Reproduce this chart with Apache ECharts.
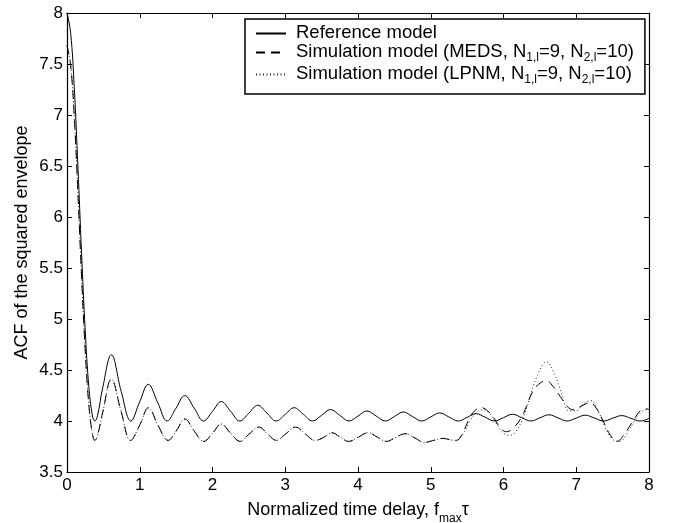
<!DOCTYPE html>
<html>
<head>
<meta charset="utf-8">
<script src="https://cdn.jsdelivr.net/npm/echarts@6/dist/echarts.min.js"></script>
<style>
html, body { margin: 0; padding: 0; background: #fff; }
#chart { width: 673px; height: 523px; }
</style>
</head>
<body>
<div id="chart"></div>
<script>
// values: [tau, ACF]
const refModel = [
  [0, 8], [0.05, 7.806], [0.1, 7.267], [0.15, 6.496], [0.2, 5.651], [0.25, 4.891],
  [0.3, 4.338], [0.35, 4.049], [0.383, 4.0], [0.42, 4.053], [0.49, 4.323], [0.61, 4.649],
  [0.745, 4.29], [0.879, 4.0], [1.0, 4.19], [1.117, 4.36], [1.247, 4.18], [1.377, 4.0],
  [1.498, 4.125], [1.619, 4.249], [1.749, 4.125], [1.877, 4.0], [2.0, 4.095], [2.121, 4.191],
  [2.249, 4.095], [2.376, 4.0], [2.5, 4.077], [2.621, 4.154], [2.749, 4.077], [2.876, 4.0],
  [3.0, 4.065], [3.122, 4.13], [3.249, 4.065], [3.376, 4.0], [3.5, 4.056], [3.622, 4.112],
  [3.749, 4.056], [3.876, 4.0], [4.0, 4.049], [4.123, 4.098], [4.249, 4.049], [4.376, 4.0],
  [4.5, 4.044], [4.623, 4.088], [4.749, 4.044], [4.876, 4.0], [5.0, 4.04], [5.123, 4.079],
  [5.249, 4.04], [5.376, 4.0], [5.5, 4.036], [5.623, 4.072], [5.749, 4.036], [5.876, 4.0],
  [6.0, 4.033], [6.124, 4.066], [6.249, 4.033], [6.375, 4.0], [6.5, 4.031], [6.624, 4.061],
  [6.749, 4.031], [6.875, 4.0], [7.0, 4.029], [7.124, 4.057], [7.249, 4.029], [7.375, 4.0],
  [7.5, 4.027], [7.624, 4.053], [7.749, 4.027], [7.875, 4.0], [8.0, 4.025]
];

// both simulation models coincide up to about tau = 5.3
const simCommon = [
  [0, 7.68], [0.05, 7.49], [0.1, 6.98], [0.15, 6.24], [0.2, 5.42], [0.25, 4.7],
  [0.3, 4.16], [0.35, 3.87], [0.383, 3.81], [0.42, 3.86], [0.49, 4.08], [0.61, 4.41],
  [0.745, 4.09], [0.875, 3.81], [1.0, 3.96], [1.12, 4.13], [1.25, 3.96], [1.39, 3.81],
  [1.5, 3.9], [1.62, 4.02], [1.75, 3.9], [1.88, 3.8], [2.0, 3.88], [2.12, 3.97],
  [2.25, 3.88], [2.38, 3.8], [2.5, 3.87], [2.64, 3.94], [2.76, 3.87], [2.88, 3.81],
  [3.0, 3.87], [3.14, 3.94], [3.28, 3.87], [3.41, 3.81], [3.53, 3.84], [3.64, 3.885],
  [3.76, 3.84], [3.87, 3.8], [4.0, 3.84], [4.14, 3.885], [4.27, 3.84], [4.39, 3.8],
  [4.52, 3.84], [4.65, 3.875], [4.78, 3.835], [4.91, 3.79], [5.04, 3.81], [5.17, 3.83],
  [5.27, 3.815], [5.35, 3.81]
];

const medsTail = [
  [5.45, 3.9], [5.54, 4.04], [5.62, 4.11], [5.7, 4.13], [5.78, 4.1], [5.86, 4.04],
  [5.95, 3.94], [6.04, 3.895], [6.12, 3.92], [6.25, 4.04], [6.41, 4.3], [6.52, 4.38],
  [6.59, 4.395], [6.68, 4.34], [6.78, 4.24], [6.88, 4.14], [6.96, 4.11], [7.08, 4.15],
  [7.19, 4.18], [7.28, 4.12], [7.37, 4.0], [7.47, 3.86], [7.56, 3.8], [7.66, 3.87],
  [7.78, 4.0], [7.88, 4.1], [7.96, 4.12], [8.0, 4.11]
];

const lpnmTail = [
  [5.45, 3.88], [5.54, 4.0], [5.62, 4.08], [5.72, 4.11], [5.8, 4.08], [5.88, 4.0],
  [5.97, 3.9], [6.07, 3.86], [6.15, 3.88], [6.25, 4.0], [6.35, 4.2], [6.45, 4.42],
  [6.59, 4.58], [6.7, 4.46], [6.8, 4.27], [6.9, 4.1], [7.0, 4.1], [7.1, 4.17],
  [7.2, 4.2], [7.3, 4.1], [7.4, 3.93], [7.5, 3.82], [7.6, 3.8], [7.7, 3.88],
  [7.8, 4.0], [7.9, 4.09], [8.0, 4.12]
];

const seriesNames = [
  'Reference model',
  'Simulation model (MEDS, N1,l=9, N2,l=10)',
  'Simulation model (LPNM, N1,l=9, N2,l=10)'
];
const legendLabels = {
  'Reference model': '{g| }{n|Reference model}',
  'Simulation model (MEDS, N1,l=9, N2,l=10)': '{g| }{n|Simulation model (MEDS, N}{s|1,l}{n|=9, N}{s|2,l}{n|=10)}',
  'Simulation model (LPNM, N1,l=9, N2,l=10)': '{g| }{n|Simulation model (LPNM, N}{s|1,l}{n|=9, N}{s|2,l}{n|=10)}'
};

const FONT = '"Liberation Sans", Arial, Helvetica, sans-serif';
const chart = echarts.init(document.getElementById('chart'));

const mirrorTick = { show: true, inside: true, length: 5, lineStyle: { color: '#000', width: 1 } };
const frameLine = { show: true, onZero: false, lineStyle: { color: '#000', width: 1.2 } };

const option = {
  animation: false,
  backgroundColor: '#fff',
  grid: { left: 67, right: 24, top: 13, bottom: 51, containLabel: false, outerBoundsMode: 'none' },
  legend: {
    data: seriesNames,
    orient: 'vertical',
    left: 245,
    top: 19,
    itemWidth: 30,
    itemHeight: 14,
    itemGap: 0,
    padding: [4, 11, 8, 10],
    backgroundColor: '#fff',
    borderColor: '#000',
    borderWidth: 1.5,
    borderRadius: 0,
    itemStyle: { opacity: 0 },
    formatter: function (name) { return legendLabels[name]; },
    textStyle: {
      fontFamily: FONT,
      color: '#000',
      rich: {
        g: { width: 5, fontSize: 12, lineHeight: 10, verticalAlign: 'top' },
        n: { fontFamily: FONT, fontSize: 18.5, color: '#000', lineHeight: 21, verticalAlign: 'top' },
        s: { fontFamily: FONT, fontSize: 12, color: '#000', lineHeight: 10, verticalAlign: 'top', padding: [10, 0, 0, 0] }
      }
    }
  },
  xAxis: [
    {
      type: 'value', min: 0, max: 8, interval: 1,
      name: '{a|Normalized time delay, f}{s|max}{a|\u03c4}',
      nameLocation: 'middle', nameGap: 29,
      nameTextStyle: {
        fontFamily: FONT, color: '#000',
        rich: {
          a: { fontFamily: FONT, fontSize: 18, color: '#000', lineHeight: 20, verticalAlign: 'top' },
          s: { fontFamily: FONT, fontSize: 12, color: '#000', lineHeight: 10, verticalAlign: 'top', padding: [12, 0, 0, 0] }
        }
      },
      axisLine: frameLine,
      axisTick: mirrorTick,
      axisLabel: { fontFamily: FONT, fontSize: 17, color: '#000', margin: 5 },
      splitLine: { show: false }
    },
    {
      type: 'value', position: 'top', min: 0, max: 8, interval: 1,
      axisLine: frameLine, axisTick: mirrorTick,
      axisLabel: { show: false }, splitLine: { show: false }
    }
  ],
  yAxis: [
    {
      type: 'value', min: 3.5, max: 8, interval: 0.5,
      name: 'ACF of the squared envelope',
      nameLocation: 'middle', nameGap: 36, nameRotate: 90, nameMoveOverlap: false,
      nameTextStyle: { fontFamily: FONT, fontSize: 18, color: '#000' },
      axisLine: frameLine,
      axisTick: mirrorTick,
      axisLabel: { fontFamily: FONT, fontSize: 17, color: '#000', margin: 4 },
      splitLine: { show: false }
    },
    {
      type: 'value', position: 'right', min: 3.5, max: 8, interval: 0.5,
      axisLine: frameLine, axisTick: mirrorTick,
      axisLabel: { show: false }, splitLine: { show: false }
    }
  ],
  series: [
    {
      name: seriesNames[2], type: 'line', data: simCommon.concat(lpnmTail),
      symbol: 'none', smooth: 0.4, itemStyle: { color: '#222' },
      lineStyle: { color: '#222', width: 1, type: [1, 2.5] }
    },
    {
      name: seriesNames[1], type: 'line', data: simCommon.concat(medsTail),
      symbol: 'none', smooth: 0.4, itemStyle: { color: '#000' },
      lineStyle: { color: '#000', width: 1, type: [9, 6] }
    },
    {
      name: seriesNames[0], type: 'line', data: refModel,
      symbol: 'none', smooth: 0.4, itemStyle: { color: '#000' },
      lineStyle: { color: '#000', width: 1 }
    }
  ]
};

chart.setOption(option);
</script>
</body>
</html>
